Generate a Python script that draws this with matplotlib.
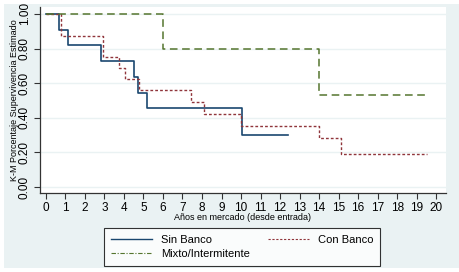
import matplotlib.pyplot as plt
from matplotlib.patches import Rectangle
from matplotlib.lines import Line2D

# Kaplan-Meier step data
t_sin = [0, 0.67, 1.13, 2.82, 4.5, 4.72, 5.18, 10.05, 12.4]
s_sin = [1.0, 0.909, 0.818, 0.727, 0.636, 0.545, 0.455, 0.303, 0.303]

t_con = [0, 0.8, 2.92, 3.74, 4.05, 4.77, 7.44, 8.1, 10.0, 14.0, 15.13, 19.54]
s_con = [1.0, 0.875, 0.75, 0.6875, 0.625, 0.5625, 0.492, 0.422, 0.352, 0.281, 0.188, 0.188]

t_mix = [0, 6.0, 14.0, 19.6]
s_mix = [1.0, 0.8, 0.533, 0.533]

x_ticks = list(range(0, 21))
y_ticks = [0.0, 0.2, 0.4, 0.6, 0.8, 1.0]

navy = '#1a476f'
maroon = '#90353b'
green = '#55752f'
bg = '#eaf2f3'

plt.rcParams['font.family'] = ['Liberation Sans', 'DejaVu Sans']

fig = plt.figure(figsize=(4.59, 2.72), dpi=100, facecolor='white')
fig.patches.append(Rectangle((4/459, 4/272), 1 - 4/459, 1 - 8/272,
                             transform=fig.transFigure, facecolor=bg,
                             edgecolor='none', zorder=-5))

ax = fig.add_axes([40/459, 1 - 193/272, 406/459, 186/272])
ax.set_facecolor('white')

ax.step(t_sin, s_sin, where='post', color=navy, lw=1.2, zorder=3)
ax.step(t_con, s_con, where='post', color=maroon, lw=1.0,
        dashes=(2.0, 1.5), zorder=3)
ax.step(t_mix, s_mix, where='post', color=green, lw=1.1,
        dashes=(5, 3), zorder=3)

ax.set_xlim(-0.3, 20.5)
ax.set_ylim(-0.035, 1.04)
ax.set_xticks(x_ticks)
ax.set_yticks(y_ticks)
ax.set_yticklabels(['%.2f' % v for v in y_ticks], rotation=90, va='center')
ax.tick_params(axis='both', labelsize=8.5, length=4.5, width=0.8,
               color='#333333', direction='out', pad=2)

ax.yaxis.grid(True, color=bg, lw=1.0)
ax.set_axisbelow(True)
for s in ['top', 'right']:
    ax.spines[s].set_visible(False)
for s in ['left', 'bottom']:
    ax.spines[s].set_color('#333333')
    ax.spines[s].set_linewidth(0.9)

ax.set_xlabel('Años en mercado (desde entrada)', fontsize=6.5, labelpad=-1)
ax.set_ylabel('K-M Porcentaje Supervivencia Estimado', fontsize=6.5, labelpad=0)

handles = [
    Line2D([], [], color=navy, lw=1.0),
    Line2D([], [], color=green, lw=0.8, dashes=(4, 1.5, 1, 1.5)),
    Line2D([], [], color=maroon, lw=0.8, dashes=(2, 1.5)),
]
labels = ['Sin Banco', 'Mixto/Intermitente', 'Con Banco']
leg = fig.legend(handles, labels, ncol=2, loc='center',
                 bbox_to_anchor=(242/459, 1 - 247/272), fontsize=8,
                 frameon=True, fancybox=False, edgecolor='black',
                 handlelength=3.7, handletextpad=0.8, columnspacing=1.6,
                 borderpad=0.65, labelspacing=0.35)
leg.get_frame().set_linewidth(0.8)
leg.get_frame().set_facecolor('white')

fig.savefig('out.png', dpi=100, facecolor=fig.get_facecolor())
